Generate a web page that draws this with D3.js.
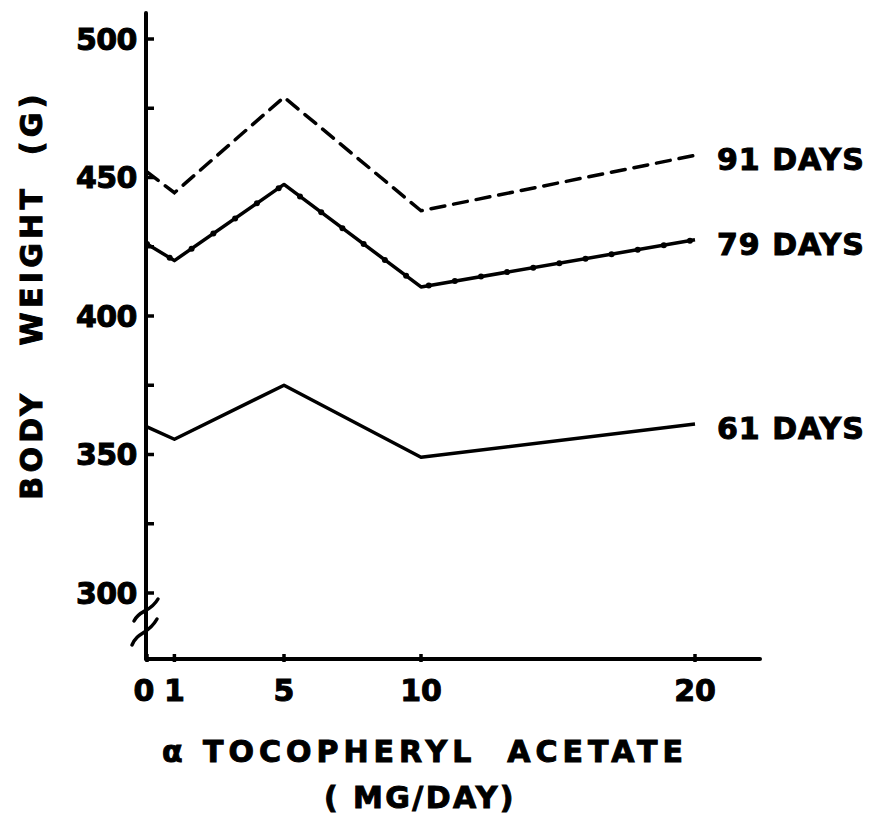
<!DOCTYPE html>
<html>
<head>
<meta charset="utf-8">
<script src="https://cdn.jsdelivr.net/npm/d3@7"></script>
<style>
  html, body { margin: 0; padding: 0; background: #fff; }
  svg text { font-family: "DejaVu Sans", "Liberation Sans", sans-serif; font-weight: bold; fill: #000; stroke: #000; stroke-width: 1; white-space: pre; }
</style>
</head>
<body>
<div id="chart"></div>
<script>
// ---- data ----
const doses = [0, 1, 5, 10, 20];
const xTickLabels = ["0", "1", "5", "10", "20"];
const yTickValues = [300, 350, 400, 450, 500];
const yMinorTicks = [325, 375, 425, 475];
const days91 = [452, 444.5, 479, 438, 458];
const days79 = [426, 420, 447.5, 410.5, 427.5];
const days61 = [360, 355.5, 375, 349, 361];
const seriesNames = ["91 DAYS", "79 DAYS", "61 DAYS"];
const yTitle = "BODY   WEIGHT  (G)";
const xTitle1 = "\u03b1 TOCOPHERYL  ACETATE";
const xTitle2 = "( MG/DAY)";

const W = 878, H = 815;
const svg = d3.select("#chart").append("svg").attr("width", W).attr("height", H);

const x = d3.scaleLinear().domain([0, 20]).range([147, 695]);
const y = d3.scaleLinear().domain([300, 500]).range([593, 39]);
const axisX = 146, axisY = 659;

// axes lines
svg.append("line").attr("x1", axisX).attr("x2", axisX).attr("y1", 13).attr("y2", axisY)
  .attr("stroke", "#000").attr("stroke-width", 4).attr("stroke-linecap", "round");
svg.append("line").attr("x1", axisX).attr("x2", 760).attr("y1", axisY).attr("y2", axisY)
  .attr("stroke", "#000").attr("stroke-width", 4).attr("stroke-linecap", "round");

// y ticks (inward)
const yTicksAll = yTickValues.concat(yMinorTicks);
svg.selectAll(".yt").data(yTicksAll).enter().append("line")
  .attr("x1", axisX).attr("x2", axisX + 8)
  .attr("y1", d => y(d)).attr("y2", d => y(d))
  .attr("stroke", "#000").attr("stroke-width", 3.5);
svg.selectAll(".ytl").data(yTickValues).enter().append("text")
  .attr("x", 137).attr("y", d => y(d)).attr("dy", "0.36em")
  .attr("text-anchor", "end").attr("font-size", 30).attr("letter-spacing", -0.5)
  .text(d => d);

// x ticks
svg.selectAll(".xt").data(doses).enter().append("line")
  .attr("x1", d => x(d)).attr("x2", d => x(d))
  .attr("y1", axisY - 5).attr("y2", axisY + 3)
  .attr("stroke", "#000").attr("stroke-width", 3.5);
svg.selectAll(".xtl").data(doses).enter().append("text")
  .attr("x", (d, i) => x(d) + (i === 0 ? -3 : 0)).attr("y", 690).attr("dy", "0.36em")
  .attr("text-anchor", "middle").attr("font-size", 30)
  .text((d, i) => xTickLabels[i]);

// axis break marks
const brk = svg.append("g").attr("fill", "none").attr("stroke", "#000").attr("stroke-width", 3.5).attr("stroke-linecap", "round");
brk.append("path").attr("d", `M${axisX-12},${y(300)+28} C${axisX-6},${y(300)+16} ${axisX+4},${y(300)+20} ${axisX+12},${y(300)+6}`);
brk.append("path").attr("d", `M${axisX-14},${y(300)+52} C${axisX-8},${y(300)+38} ${axisX+2},${y(300)+42} ${axisX+11},${y(300)+26}`);

// lines
const line = d3.line().x((d, i) => x(doses[i])).y(d => y(d));
svg.append("path").datum(days91).attr("d", line).attr("fill", "none")
  .attr("stroke", "#000").attr("stroke-width", 3.5).attr("stroke-dasharray", "14,9").attr("stroke-linecap", "round");
const p79 = svg.append("path").datum(days79).attr("d", line).attr("fill", "none")
  .attr("stroke", "#000").attr("stroke-width", 3.5).attr("stroke-linejoin", "round");
svg.append("path").datum(days61).attr("d", line).attr("fill", "none")
  .attr("stroke", "#000").attr("stroke-width", 3.5).attr("stroke-linejoin", "round");

// dots along 79-day line
const node = p79.node();
const L = node.getTotalLength();
const dots = d3.range(0, L, 26.5).map(l => node.getPointAtLength(l));
svg.selectAll(".dot").data(dots).enter().append("circle")
  .attr("cx", d => d.x).attr("cy", d => d.y).attr("r", 3).attr("fill", "#000");

// series labels
const lastVals = [days91[4], days79[4], days61[4]];
svg.selectAll(".sl").data(seriesNames).enter().append("text")
  .attr("x", 717).attr("y", (d, i) => y(lastVals[i]) + 4).attr("dy", "0.36em")
  .attr("font-size", 30).attr("letter-spacing", 1)
  .text(d => d);

// y title
svg.append("text").attr("transform", "translate(42,295) rotate(-90)")
  .attr("text-anchor", "middle").attr("font-size", 30).attr("letter-spacing", 4.3)
  .text(yTitle);

// x titles
svg.append("text").attr("x", 425).attr("y", 762).attr("text-anchor", "middle")
  .attr("font-size", 30).attr("letter-spacing", 5).text(xTitle1);
svg.append("text").attr("x", 420).attr("y", 808).attr("text-anchor", "middle")
  .attr("font-size", 30).attr("letter-spacing", 2.4).text(xTitle2);
</script>
</body>
</html>
